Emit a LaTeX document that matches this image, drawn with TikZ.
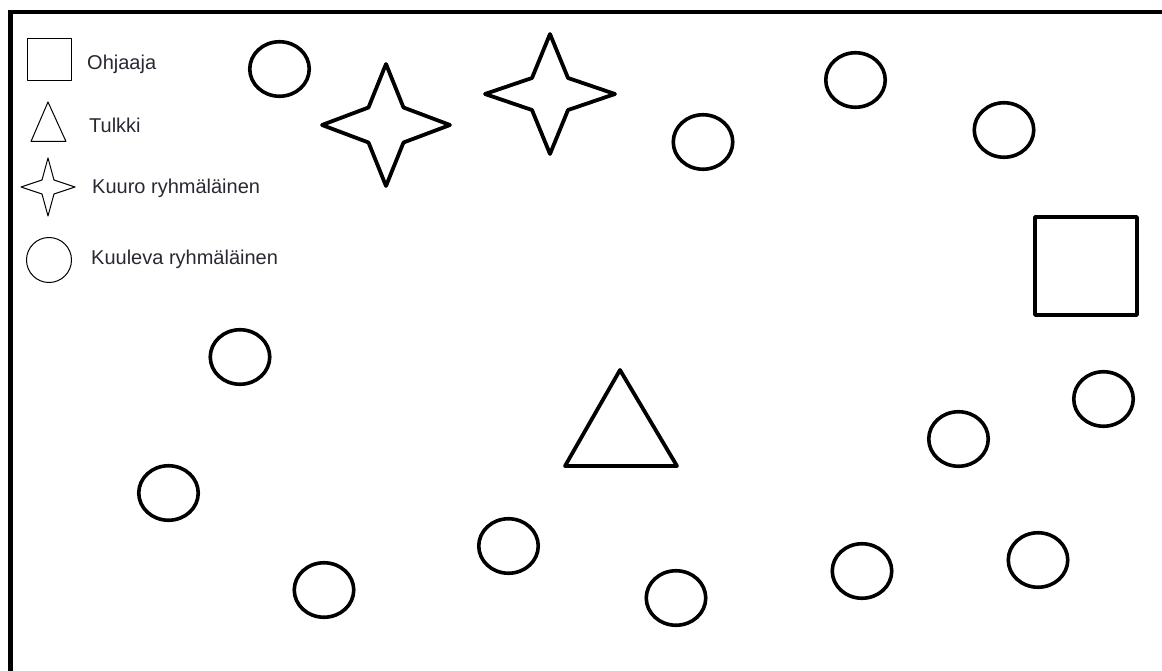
\documentclass[tikz,border=0pt]{standalone}
\usepackage{fontspec}
\setmainfont{Liberation Sans}
\usetikzlibrary{shapes.geometric}
\definecolor{txt}{rgb}{0.16,0.16,0.2}
\tikzset{
  pics/fourstar/.style n args={4}{code={
    \draw[pic actions] (-#1,0) -- (-#3,-#4) -- (0,-#2) -- (#3,-#4) -- (#1,0)
      -- (#3,#4) -- (0,#2) -- (-#3,#4) -- cycle;}}
}
\begin{document}
\begin{tikzpicture}[x=1pt,y=-1pt,
  member/.style={ellipse,draw,line width=3.6pt,minimum width=59.5pt,minimum height=54.5pt,inner sep=0pt},
  bigshape/.style={draw,line width=3.8pt,line join=round},
  legendshape/.style={draw,line width=1pt,line join=round},
  legendtext/.style={anchor=base west,inner sep=0pt,text=txt,font=\fontsize{20}{22}\selectfont},
  frameline/.style={draw,line width=4.5pt,line join=miter}
]
\useasboundingbox (0,0) rectangle (1162,671);
\fill[white] (0,0) rectangle (1162,671);

% frame (top and left edges)
\coordinate (fbl) at (10.5,671);
\coordinate (ftl) at (10.5,12);
\coordinate (ftr) at (1162,12);
\draw[frameline] (fbl) -- (ftl) -- (ftr);

% legend
\draw[legendshape] (27.5,38.5) rectangle (71.5,80.5);
\node[legendtext] (lOhj) at (87,70) {Ohjaaja};
\draw[legendshape] (48,102) -- (66,141.5) -- (31,141.5) -- cycle;
\node[legendtext] (lTul) at (89,133) {Tulkki};
\pic[legendshape] at (48,187) {fourstar={27}{29}{6}{7}};
\node[legendtext] (lKuu) at (92,194) {Kuuro ryhmäläinen};
\node[ellipse,draw,line width=1pt,minimum width=45pt,minimum height=45pt,inner sep=0pt] (lcirc) at (49,260) {};
\node[legendtext] (lKul) at (91,265) {Kuuleva ryhmäläinen};

% deaf members (stars)
\pic[bigshape] at (386,125) {fourstar={64}{61}{17.5}{17.5}};
\pic[bigshape] at (550,94) {fourstar={65}{60}{18}{16}};

% supervisor
\draw[bigshape] (1035,217) rectangle (1137,315);

% interpreter
\draw[bigshape] (620,370) -- (677,466) -- (565,466) -- cycle;

% hearing members
\node[member] (c1) at (279.5,69) {};
\node[member] (c2) at (703,142) {};
\node[member] (c3) at (855.5,80) {};
\node[member] (c4) at (1004,130) {};
\node[member] (c5) at (240,357) {};
\node[member] (c6) at (168.5,493) {};
\node[member] (c7) at (324,590) {};
\node[member] (c8) at (508.5,546) {};
\node[member] (c9) at (676,598) {};
\node[member] (c10) at (862,571) {};
\node[member] (c11) at (958.5,439) {};
\node[member] (c12) at (1038,560) {};
\node[member] (c13) at (1103.5,399) {};
\end{tikzpicture}
\end{document}
